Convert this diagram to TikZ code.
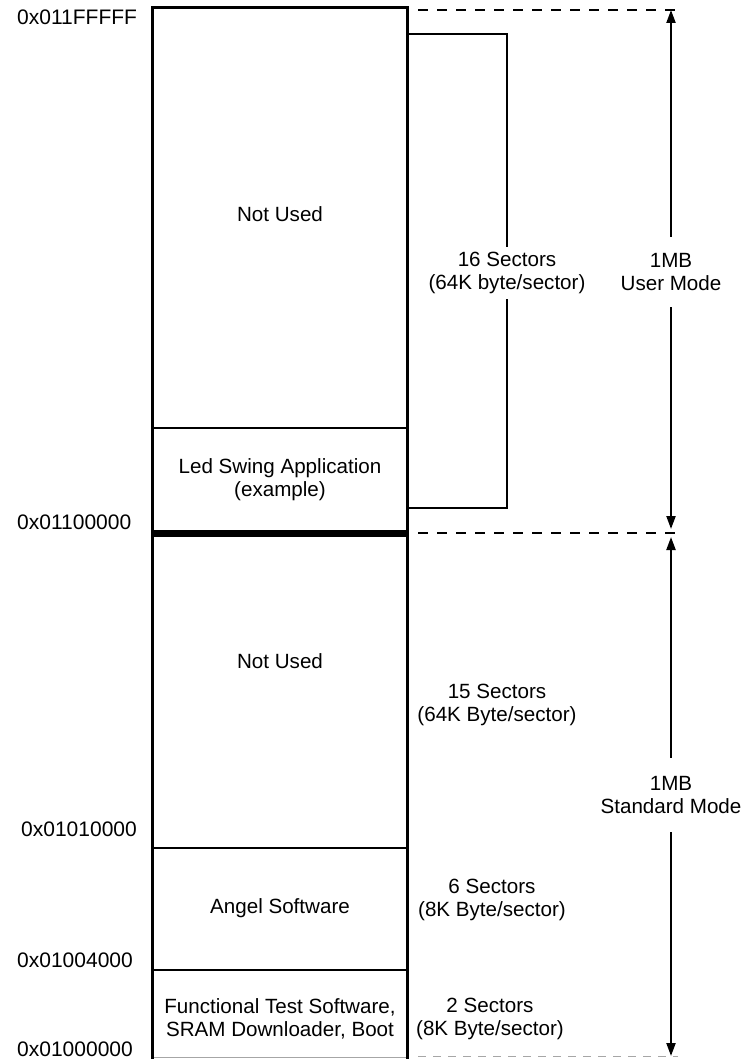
\documentclass[tikz,border=0pt]{standalone}
\usepackage{fontspec}
\setmainfont{Liberation Sans}
\usetikzlibrary{arrows.meta}
\begin{document}
\begin{tikzpicture}[x=1pt,y=-1pt,
  lbl/.style={font=\fontsize{20.6}{23}\selectfont, align=center, inner sep=0pt},
  addr/.style={font=\fontsize{21}{23}\selectfont, anchor=west, inner sep=0pt},
  gaplbl/.style={lbl, fill=white, inner xsep=2pt},
  wall/.style={line width=3pt},
  divider/.style={line width=1.8pt},
  bracket/.style={line width=2.1pt},
  guide/.style={line width=2.8pt, dash pattern=on 10pt off 9pt},
  faint/.style={line width=1pt, draw=black!35, dash pattern=on 8pt off 7pt},
  span/.style={line width=2.1pt, {Triangle[length=13pt,width=9pt]}-{Triangle[length=13pt,width=9pt]}},
]
\useasboundingbox (0,0) rectangle (745,1059);

% memory block outline
\draw[faint, dash pattern=] (152,1057) -- (407,1057);
\draw[wall] (152,1060) -- (152,8) -- (407,8) -- (407,1060);
\draw[divider] (152,428) -- (407,428);
\draw[divider] (152,848) -- (407,848);
\draw[divider] (152,970) -- (407,970);
\draw[line width=7pt] (152,533) -- (407,533);

% dashed guide lines
\draw[guide] (418,10) -- (678,10);
\draw[guide] (418,533) -- (678,533);
\draw[faint] (418,1056) -- (678,1056);

% bracket for user sectors
\coordinate (brtop) at (407,34);
\coordinate (brbot) at (407,508);
\draw[bracket] (brtop) -| (507,508) -- (brbot);
\node[gaplbl, inner ysep=5pt] (sec16) at (507,273) {16 Sectors\\(64K byte/sector)};

% size arrows
\coordinate (umtop) at (671,10);
\coordinate (umbot) at (671,529);
\coordinate (smtop) at (671,537);
\coordinate (smbot) at (671,1056);
\draw[span] (umtop) -- (umbot);
\draw[span] (smtop) -- (smbot);
\node[gaplbl, inner ysep=16pt] (usermode) at (671,272) {1MB\\User Mode};
\node[gaplbl, inner ysep=18pt] (stdmode) at (671,795) {1MB\\Standard Mode};

% block contents
\node[lbl] (nu1) at (280,214) {Not Used};
\node[lbl] (led) at (280,480) {Led Swing Application\\(example)};
\node[lbl] (nu2) at (280,661) {Not Used};
\node[lbl] (angel) at (280,908) {Angel Software};
\node[lbl] (fts) at (280,1019) {Functional Test Software,\\SRAM Downloader, Boot};

% sector labels
\node[lbl] (sec15) at (497,705) {15 Sectors\\(64K Byte/sector)};
\node[lbl] (sec6) at (492,900) {6 Sectors\\(8K Byte/sector)};
\node[lbl] (sec2) at (490,1019) {2 Sectors\\(8K Byte/sector)};

% addresses
\node[addr] (a1) at (17,17) {0x011FFFFF};
\node[addr] (a2) at (17,522) {0x01100000};
\node[addr] (a3) at (21,829) {0x01010000};
\node[addr] (a4) at (17,960) {0x01004000};
\node[addr] (a5) at (17,1049) {0x01000000};
\end{tikzpicture}
\end{document}
